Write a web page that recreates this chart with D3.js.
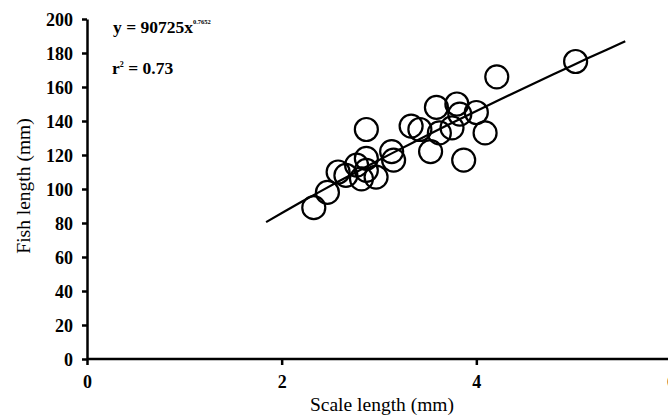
<!DOCTYPE html>
<html>
<head>
<meta charset="utf-8">
<script src="https://cdn.jsdelivr.net/npm/d3@7"></script>
<style>
  body { margin: 0; background: #fff; }
  svg { display: block; }
  text { font-family: "Liberation Serif", "Times New Roman", serif; fill: #000; }
</style>
</head>
<body>
<div id="chart"></div>
<script>
// Scale length (mm) vs fish length (mm)
const scaleLength = [2.33, 2.47, 2.58, 2.66, 2.77, 2.87, 2.87, 2.82, 2.97, 2.87,
                     3.13, 3.15, 3.33, 3.42, 3.53, 3.59, 3.62, 3.75, 3.80, 3.83,
                     4.00, 4.09, 3.87, 4.21, 5.02]
const fishLength  = [89, 98, 110, 108, 114, 118, 111, 106, 107, 135,
                     122, 117, 137, 135, 122, 148, 133, 136, 150, 144,
                     145, 133, 117, 166, 175]

const xTicks = [0, 2, 4, 6]
const yTicks = [0, 20, 40, 60, 80, 100, 120, 140, 160, 180, 200]

// fitted power curve, drawn over the span shown in the figure
const fitA = 50.5
const fitB = 0.7652
const fitRange = [1.84, 5.53]

const width = 668, height = 416

const svg = d3.select("#chart").append("svg")
   .attr("width", width)
   .attr("height", height)

const x = d3.scaleLinear().domain([0, 6]).range([87, 671])
const y = d3.scaleLinear().domain([0, 200]).range([359, 19])

// x axis
const xAxis = svg.append("g")
   .attr("transform", "translate(0," + y(0) + ")")
   .call(d3.axisBottom(x).tickValues(xTicks).tickFormat(d3.format("d")).tickSize(6).tickSizeOuter(0))
xAxis.select(".domain").attr("stroke-width", 2.5)
   .attr("d", "M" + x(0) + ",0H" + width)
xAxis.selectAll(".tick line").attr("stroke-width", 2.5)
xAxis.selectAll(".tick text")
   .attr("dy", 0).attr("y", 29)
   .style("font-size", "18px").style("font-weight", "bold")
   .style("font-family", "'Liberation Serif', serif")

// y axis
const yAxis = svg.append("g")
   .attr("transform", "translate(" + x(0) + ",0)")
   .call(d3.axisLeft(y).tickValues(yTicks).tickSize(5).tickSizeOuter(0))
yAxis.select(".domain").attr("stroke-width", 2.5)
yAxis.selectAll(".tick line").attr("stroke-width", 2.5)
yAxis.selectAll(".tick text")
   .attr("x", -14)
   .attr("dy", "0.36em")
   .style("font-size", "18px").style("font-weight", "bold")
   .style("font-family", "'Liberation Serif', serif")

// axis titles
svg.append("text")
   .attr("x", 382).attr("y", 411)
   .attr("text-anchor", "middle")
   .style("font-size", "19.5px")
   .text("Scale length (mm)")

svg.append("text")
   .attr("transform", "translate(30,186) rotate(-90)")
   .attr("text-anchor", "middle")
   .style("font-size", "19.5px")
   .text("Fish length (mm)")

// fitted curve
const fitPts = d3.range(0, 21).map(function(i) {
   let xv = fitRange[0] + (fitRange[1] - fitRange[0]) * i / 20
   return [xv, fitA * Math.pow(xv, fitB)]
})
svg.append("path")
   .datum(fitPts)
   .attr("fill", "none")
   .attr("stroke", "#000")
   .attr("stroke-width", 2.2)
   .attr("d", d3.line().x(function(d) { return x(d[0]) }).y(function(d) { return y(d[1]) }))

// data points
svg.selectAll("circle.pt")
   .data(d3.zip(scaleLength, fishLength))
   .enter().append("circle")
      .attr("class", "pt")
      .attr("cx", function(d) { return x(d[0]) })
      .attr("cy", function(d) { return y(d[1]) })
      .attr("r", 11.5)
      .attr("fill", "none")
      .attr("stroke", "#000")
      .attr("stroke-width", 2.2)

// equation
const eq = svg.append("text")
   .attr("x", 113).attr("y", 33)
   .style("font-size", "17.5px").style("font-weight", "bold")
eq.append("tspan").text("y = 90725x")
eq.append("tspan").attr("dy", -9).style("font-size", "6.5px").text("0.7652")

const r2 = svg.append("text")
   .attr("x", 112).attr("y", 74)
   .style("font-size", "17.5px").style("font-weight", "bold")
r2.append("tspan").text("r")
r2.append("tspan").attr("dy", -7).style("font-size", "8px").text("2")
r2.append("tspan").attr("dy", 7).text(" = 0.73")
</script>
</body>
</html>
